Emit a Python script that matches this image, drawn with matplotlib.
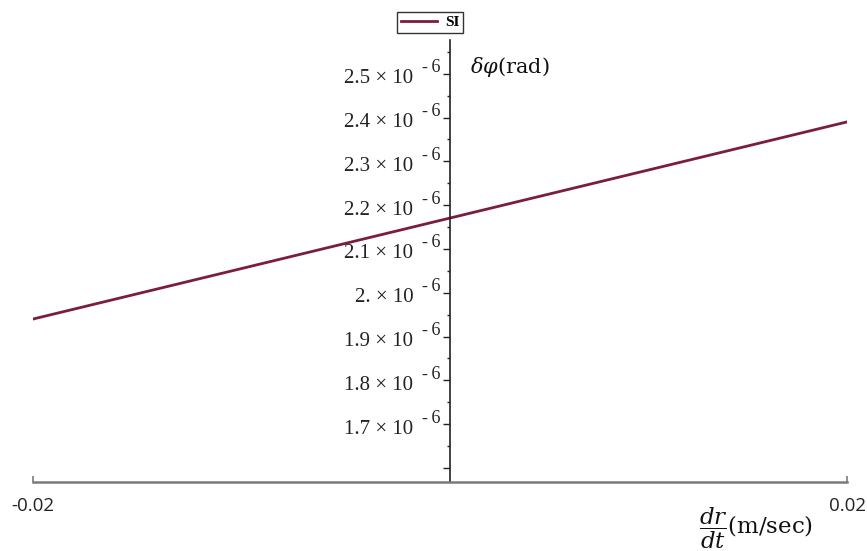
import numpy as np
import matplotlib.pyplot as plt
import matplotlib.transforms as mtransforms

plt.rcParams['mathtext.fontset'] = 'custom'
plt.rcParams['mathtext.rm'] = 'Liberation Serif'
plt.rcParams['mathtext.it'] = 'Liberation Serif:italic'

# values
drdt = [-0.02, 0.0, 0.02]
dphi = [1.940e-6, 2.165e-6, 2.390e-6]

ytick_vals = [1.6e-6, 1.7e-6, 1.8e-6, 1.9e-6, 2.0e-6, 2.1e-6, 2.2e-6, 2.3e-6, 2.4e-6, 2.5e-6]
ytick_text = ['', '1.7', '1.8', '1.9', '2.', '2.1', '2.2', '2.3', '2.4', '2.5']
ytick_exp = '-\u20096'
xtick_vals = [-0.02, 0.02]
xtick_text = ['-0.02', '0.02']

line_color = '#7a1e3a'
spine_x = 0.5123  # where the vertical axis sits, in axes fraction

fig = plt.figure(figsize=(8.67, 5.51), dpi=100)
ax = fig.add_axes([33 / 867, 69 / 551, 814 / 867, 442 / 551])

ax.plot(drdt, dphi, color=line_color, linewidth=2, label='SI')

ax.set_xlim(-0.02, 0.02)
ax.set_ylim(1.568e-6, 2.577e-6)

# spines like a maple "normal" axes plot
ax.spines['top'].set_visible(False)
ax.spines['right'].set_visible(False)
ax.spines['left'].set_position(('axes', spine_x))
ax.spines['left'].set_color('#222222')
ax.spines['left'].set_linewidth(1.2)
ax.spines['bottom'].set_color('#7a7a7a')
ax.spines['bottom'].set_linewidth(1.8)

# y ticks: mantissa as tick label, the exponent drawn as a raised small text
ax.set_yticks(ytick_vals)
ax.set_yticklabels([t + ' × 10' if t else '' for t in ytick_text],
                   fontfamily='Liberation Serif', fontsize=15, color='#222222',
                   va='center')
ax.set_yticks(np.arange(1.65e-6, 2.6e-6, 1e-7), minor=True)
ax.tick_params(axis='y', which='major', direction='out', length=5, width=1, pad=21.5, color='#222222')
ax.tick_params(axis='y', which='minor', direction='out', length=2.5, width=1, color='#222222')
# maple prints the mantissa a bit below its tick
shift = mtransforms.ScaledTranslation(0, -3.5 / 72, fig.dpi_scale_trans)
for lbl in ax.get_yticklabels():
    lbl.set_transform(lbl.get_transform() + shift)

for v, t in zip(ytick_vals, ytick_text):
    if t:
        ax.annotate(ytick_exp, xy=(spine_x, v), xycoords=ax.get_yaxis_transform(),
                    xytext=(-7, 10.5), textcoords='offset points', ha='right', va='top',
                    fontfamily=['Liberation Serif', 'DejaVu Serif'], fontsize=13,
                    color='#222222')

ax.set_xticks(xtick_vals)
ax.set_xticklabels(xtick_text, fontfamily='Open Sans', fontsize=13.5, color='#222222')
ax.tick_params(axis='x', direction='in', length=4, width=1.2, pad=11, color='#7a7a7a')

# axis labels
fig.text(470 / 867, 1 - 67 / 551, r'$\delta\varphi$(rad)', fontsize=15, family='DejaVu Serif',
         math_fontfamily='dejavuserif', va='center', ha='left', color='#111111')
fig.text(699 / 867, 1 - 528 / 551, r'$\dfrac{dr}{dt}$(m/sec)', fontsize=16.5, family='DejaVu Serif',
         math_fontfamily='dejavuserif', va='center', ha='left', color='#111111')

leg = fig.legend(loc='center', bbox_to_anchor=(430 / 867, 1 - 22.5 / 551), fancybox=False,
                 framealpha=1, edgecolor='#333333', handlelength=2.4, borderpad=0.25,
                 handletextpad=0.5, borderaxespad=0,
                 prop={'family': 'Liberation Serif', 'weight': 'bold', 'size': 11})
leg.get_frame().set_linewidth(1.0)

plt.savefig('out.png', dpi=100)
